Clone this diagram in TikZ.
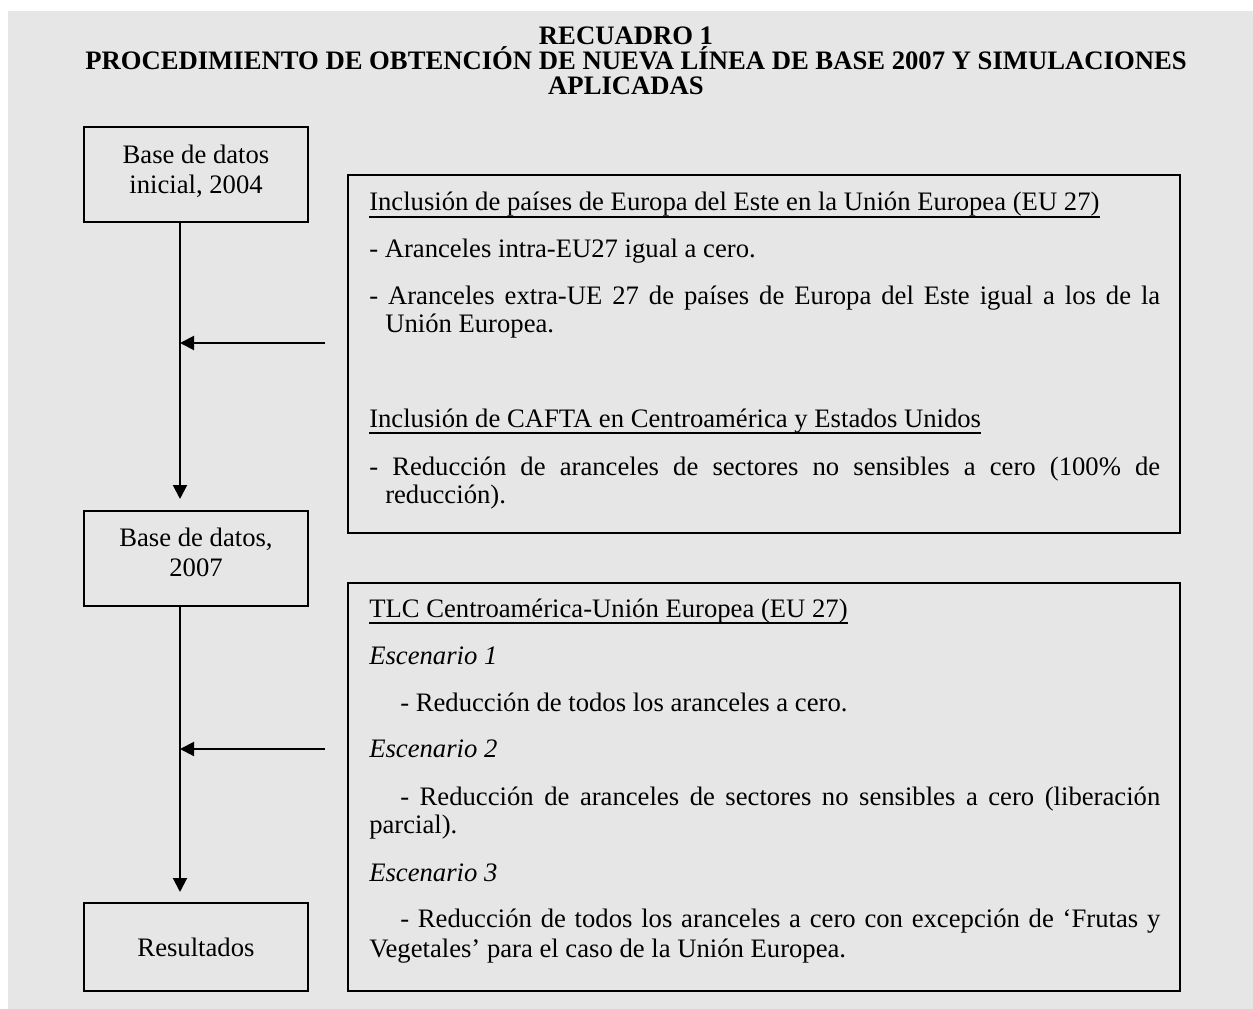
\documentclass[tikz,border=0pt]{standalone}
\usepackage{fontspec}
\setmainfont{Liberation Serif}
\usetikzlibrary{arrows.meta}
\definecolor{bg}{RGB}{230,230,230}
\begin{document}
\begin{tikzpicture}[x=0.75pt,y=-0.75pt,
 txt/.style={anchor=base west, inner sep=0pt, font=\fontsize{20pt}{22pt}\selectfont},
 ttl/.style={inner sep=0pt, align=center, font=\fontsize{20pt}{18.75pt}\selectfont\bfseries},
 lbox/.style={draw, line width=1.5pt, minimum width=168pt, minimum height=71.25pt, inner sep=0pt, align=center, font=\fontsize{20pt}{22.5pt}\selectfont},
 rbox/.style={draw, line width=1.5pt, inner sep=0pt, minimum width=624pt},
 arr/.style={line width=1.5pt, -{Triangle[length=10.5pt,width=10.5pt]}},
 uline/.style={line width=1.2pt}]
\path[use as bounding box] (0,0) rectangle (1253,1009);
\fill[bg] (8,11) rectangle (1253,1009);

% title
\node[ttl, anchor=north] (title) at (626,26.5) {RECUADRO 1\\\hspace*{15pt}PROCEDIMIENTO DE OBTENCIÓN DE NUEVA LÍNEA DE BASE 2007 Y SIMULACIONES\\APLICADAS};

% left boxes
\node[lbox] (b1) at (196,174.5) {Base de datos\\inicial, 2004\rule[-7.5pt]{0pt}{7.5pt}};
\node[lbox] (b2) at (196,558.5) {Base de datos,\\2007\rule[-9pt]{0pt}{9pt}};
\node[lbox, minimum height=66pt] (b3) at (196,947) {Resultados};

% right boxes
\node[rbox, minimum height=268.5pt] (r1) at (764,354) {};
\node[rbox, minimum height=306pt] (r2) at (764,787) {};

% arrows
\coordinate (ax) at (180,0);
\coordinate (h1) at (325,343);
\coordinate (h2) at (325,749);
\draw[arr, shorten >=8.25pt] (b1.south -| ax) -- (b2.north -| ax);
\draw[arr, shorten >=7.5pt] (b2.south -| ax) -- (b3.north -| ax);
\draw[arr] (h1) -- (h1 -| ax);
\draw[arr] (h2) -- (h2 -| ax);

% text of box 1
\node[txt] (t1) at (369,211) {Inclusión de países de Europa del Este en la Unión Europea (EU 27)};
\draw[uline] ([yshift=-4.5pt]t1.base west) -- ([yshift=-4.5pt]t1.base east);
\node[txt] (t2) at (369,258) {- Aranceles intra-EU27 igual a cero.};
\node[txt] (t3) at (369,305) {\makebox[593.25pt][s]{- Aranceles extra-UE 27 de países de Europa del Este igual a los de la}};
\node[txt] (t4) at (385,333) {Unión Europea.};
\node[txt] (t5) at (369,427) {Inclusión de CAFTA en Centroamérica y Estados Unidos};
\draw[uline] ([yshift=-4.5pt]t5.base west) -- ([yshift=-4.5pt]t5.base east);
\node[txt] (t6) at (369,475) {\makebox[593.25pt][s]{- Reducción de aranceles de sectores no sensibles a cero (100\% de}};
\node[txt] (t7) at (385,503) {reducción).};

% text of box 2
\node[txt] (t8) at (369,617) {TLC Centroamérica-Unión Europea (EU 27)};
\draw[uline] ([yshift=-4.5pt]t8.base west) -- ([yshift=-4.5pt]t8.base east);
\node[txt] (t9) at (369,664) {\textit{Escenario 1}};
\node[txt] (t10) at (400,711) {- Reducción de todos los aranceles a cero.};
\node[txt] (t11) at (369,757) {\textit{Escenario 2}};
\node[txt] (t12) at (400,805) {\makebox[570pt][s]{- Reducción de aranceles de sectores no sensibles a cero (liberación}};
\node[txt] (t13) at (369,833) {parcial).};
\node[txt] (t14) at (369,881) {\textit{Escenario 3}};
\node[txt] (t15) at (400,927) {\makebox[570pt][s]{- Reducción de todos los aranceles a cero con excepción de ‘Frutas y}};
\node[txt] (t16) at (369,957) {Vegetales’ para el caso de la Unión Europea.};
\end{tikzpicture}
\end{document}
